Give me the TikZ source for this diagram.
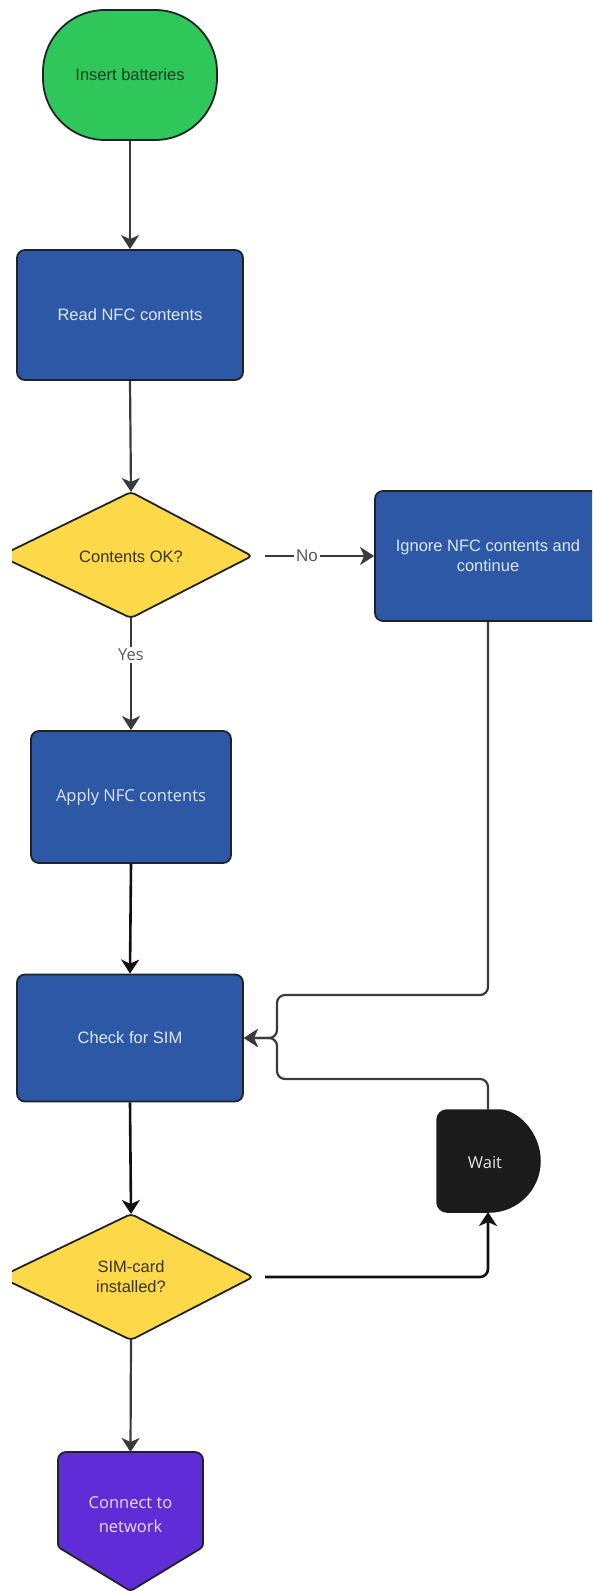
\documentclass[tikz,border=0pt]{standalone}
\usepackage{fontspec}
\setmainfont{Liberation Sans}
\newfontfamily\osans{Open Sans}
\usetikzlibrary{arrows.meta}
\definecolor{gfill}{HTML}{2FC65A}
\definecolor{bfill}{HTML}{2C58A6}
\definecolor{yfill}{HTML}{FDD94A}
\definecolor{pfill}{HTML}{5F2CD6}
\definecolor{kfill}{HTML}{1B1B1B}
\definecolor{edge}{HTML}{1F2328}
\definecolor{lineg}{HTML}{3A3A3A}
\definecolor{lineb}{HTML}{111111}
\definecolor{btext}{HTML}{DDE6F7}
\definecolor{ytext}{HTML}{3B3420}
\definecolor{gtext}{HTML}{173F22}
\definecolor{ptext}{HTML}{E9DAFF}
\definecolor{ktext}{HTML}{E6E6E6}
\definecolor{labg}{HTML}{5A5A5A}
\tikzset{
  base/.style={draw=edge, line width=1.8pt, align=center, inner sep=0pt,
    font=\fontsize{16.5}{20}\selectfont},
  proc/.style={base, rectangle, rounded corners=8pt, fill=bfill, text=btext},
  procos/.style={proc, font=\osans\fontsize{16.5}{22}\selectfont},
  termbox/.style={base, rectangle, rounded corners=62pt, fill=gfill, text=gtext,
    minimum width=174pt, minimum height=130pt},
  decision/.style={draw=edge, line width=1.8pt, fill=yfill, rounded corners=4pt},
  dtext/.style={align=center, inner sep=0pt, text=ytext, font=\fontsize{16.5}{20}\selectfont},
  waitshape/.style={draw=kfill, line width=1.5pt, fill=kfill},
  purpleshape/.style={draw=edge, line width=1.8pt, fill=pfill},
  ostext/.style={align=center, inner sep=0pt, font=\osans\fontsize{16.5}{24}\selectfont},
  tipstyle/.tip={Stealth[length=14pt,width=18pt,inset=4pt]},
  conn/.style={draw=lineg, line width=2.2pt, -tipstyle},
  connb/.style={draw=lineb, line width=2.6pt, -tipstyle},
  lab/.style={fill=white, inner sep=2pt, text=labg},
}
\begin{document}
\begin{tikzpicture}[x=1pt, y=-1pt]
\useasboundingbox (0,0) rectangle (592,1591);
\clip (12,0) rectangle (592,1591);

% nodes
\node[termbox] (start) at (130,75) {Insert batteries};
\node[proc, minimum width=226pt, minimum height=130pt] (read) at (130,315) {Read NFC contents};

\coordinate (c1t) at (131,492);
\coordinate (c1r) at (252,556);
\coordinate (c1b) at (131,618);
\coordinate (c1l) at (0,556);
\draw[decision] (c1t) -- (c1r) -- (c1b) -- (c1l) -- cycle;
\node[dtext] (ok) at (131,557) {Contents OK?};

\node[proc, minimum width=226pt, minimum height=130pt] (ign) at (488,556) {Ignore NFC contents and\\continue};

\node[procos, minimum width=200pt, minimum height=132pt] (apply) at (131,797) {Apply NFC contents};

\node[proc, minimum width=226pt, minimum height=127pt] (check) at (130,1038) {Check for SIM};

\coordinate (c2t) at (131,1214);
\coordinate (c2r) at (253,1277);
\coordinate (c2b) at (131,1340);
\coordinate (c2l) at (0,1277);
\draw[decision] (c2t) -- (c2r) -- (c2b) -- (c2l) -- cycle;
\node[dtext] (sim) at (131,1277) {SIM-card\\installed?};

% Wait (delay shape)
\coordinate (waitT) at (488,1110);
\coordinate (waitB) at (488,1212);
\draw[waitshape] (489,1110) .. controls (517.2,1110) and (540,1132.8) .. (540,1161)
  .. controls (540,1189.2) and (517.2,1212) .. (489,1212)
  [rounded corners=10pt] -- (437,1212) -- (437,1110) -- cycle;
\node[ostext, text=ktext] (wait) at (485,1163) {Wait};

% Connect to network (off-page shape)
\coordinate (netT) at (130.5,1452);
\draw[purpleshape, rounded corners=8pt] (130.5,1452) -- (203,1452)
  [rounded corners=3pt] -- (203,1547) -- (130.5,1591) -- (58,1547)
  [rounded corners=8pt] -- (58,1452) -- cycle;
\node[ostext, text=ptext] (net) at (130.5,1515) {Connect to\\network};

% junction for merging connectors
\coordinate (jn) at (277,1038);
\coordinate (ju) at (277,995);
\coordinate (jl) at (277,1079);
\coordinate (sw) at (488,1277);

% connectors
\draw[conn] (start.south) -- (read.north);
\draw[conn] (read.south) -- (c1t);
\draw[conn, shorten <=13pt] (c1r) -- node[lab, pos=0.45, font=\fontsize{17}{20}\selectfont] {No} (ign.west);
\draw[conn] (c1b) -- node[lab, pos=0.33, font=\osans\fontsize{16.5}{20}\selectfont] {Yes} (apply.north);
\draw[connb] (apply.south) -- (check.north);
\draw[connb] (check.south) -- (c2t);
\draw[conn] (c2b) -- (netT);
\draw[conn, rounded corners=8pt] (ign.south) |- (ju) -- (jn) -- (check.east);
\draw[conn, rounded corners=8pt] (waitT) |- (jl) -- (jn) -- (check.east);
\draw[connb, rounded corners=8pt, shorten <=12pt] (c2r) -- (sw) -- (waitB);
\end{tikzpicture}
\end{document}
